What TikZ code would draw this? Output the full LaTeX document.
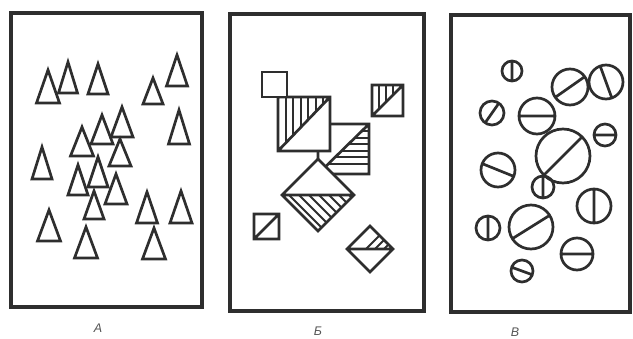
\documentclass[tikz,border=0pt]{standalone}
\usepackage{fontspec}
\setmainfont{Liberation Sans}
\usepackage{xcolor}
\definecolor{grpink}{HTML}{2E2E2E}
\definecolor{grptext}{HTML}{555555}
\usetikzlibrary{calc}
\tikzset{
  grpframe/.style={draw=grpink,line width=4pt},
  grpline/.style={draw=grpink,line width=2.7pt,line join=miter},
  grpbox/.style={grpline,fill=white},
  grphatch/.style={draw=grpink,line width=2pt},
  grplabel/.style={font=\itshape\fontsize{12.5}{14}\selectfont,text=grptext,inner sep=0pt},
}

\begin{document}
\begin{tikzpicture}[x=1pt,y=-1pt]
\useasboundingbox (0,0) rectangle (633,338);

% the three panels
\draw[grpframe] (11,13) rectangle (202,307);
\draw[grpframe] (230,14) rectangle (424,311);
\draw[grpframe] (451,15) rectangle (630,312);
\node[grplabel] (labA) at (98,328) {A};
\node[grplabel] (labB) at (318,331) {Б};
\node[grplabel] (labV) at (515,332) {В};

% A: triangles (centre x / top / base / width)
\foreach \cx/\ty/\by/\w in {48/70/103/23, 68/62/93/19, 98/64/94/20, 153/78/104/20,
  177/55/86/21, 122/107/137/22, 102/115/144/22, 82/127/156/23, 179/110/144/21,
  120/139/166/22, 42/147/179/20, 78/165/195/20, 98/157/187/20, 116/174/204/22,
  94/191/219/20, 147/192/223/21, 181/191/223/22, 49/210/241/23, 86/227/258/23,
  154/228/259/23}
  \draw[grpline] ({\cx-\w/2},\by) -- (\cx,\ty) -- ({\cx+\w/2},\by) -- cycle;

% B: squares and diamonds, half hatched
% square with horizontal hatching
\fill[white] (318,124) rectangle (369,174);
\begin{scope}
  \clip (318,174) -- (369,174) -- (369,124) -- cycle;
  \foreach \y in {131,137.5,...,169} \draw[grphatch] (318,\y) -- (369,\y);
\end{scope}
\draw[grpline] (318,124) rectangle (369,174) (318,174) -- (369,124);

% big square, vertical hatching
\fill[white] (278,97) rectangle (330,151);
\begin{scope}
  \clip (278,151) -- (278,97) -- (330,97) -- cycle;
  \foreach \x in {285.5,293,...,327} \draw[grphatch] (\x,97) -- (\x,151);
\end{scope}
\draw[grpline] (278,97) rectangle (330,151) (278,151) -- (330,97);

% small empty square
\draw[grpbox] (262,72) rectangle (287,97);

% small square top right
\begin{scope}
  \clip (372,116) -- (372,85) -- (403,85) -- cycle;
  \foreach \x in {379,386,...,398} \draw[grphatch] (\x,85) -- (\x,116);
\end{scope}
\draw[grpline] (372,85) rectangle (403,116) (372,116) -- (403,85);

% big diamond, hatching below
\fill[white] (318,159) -- (354,195) -- (318,231) -- (282,195) -- cycle;
\begin{scope}
  \clip (282,195) -- (354,195) -- (318,231) -- cycle;
  \foreach \x in {289,299,...,350} \draw[grphatch] (\x-10,185) -- (\x+50,245);
\end{scope}
\draw[grpline] (318,159) -- (354,195) -- (318,231) -- (282,195) -- cycle
  (282,195) -- (354,195);

% small diamond, hatching above
\begin{scope}
  \clip (347,249) -- (370,226) -- (393,249) -- cycle;
  \foreach \x in {356,365,...,392} \draw[grphatch] (\x+5,254) -- (\x+35,224);
\end{scope}
\draw[grpline] (370,226) -- (393,249) -- (370,272) -- (347,249) -- cycle
  (347,249) -- (393,249);

% small square bottom left
\draw[grpline] (254,214) rectangle (279,239) (254,239) -- (279,214);

% C: circles (centre x / centre y / radius / angle of the bar)
\foreach \cx/\cy/\r/\a in {512/71/10/90, 492/113/12/55, 537/116/18/0, 570/87/18/35,
  606/82/17/-70, 605/135/11/0, 563/156/27/45, 498/170/17/-22, 543/187/11/90,
  594/206/17/90, 488/228/12/90, 531/227/22/32, 577/254/16/0, 522/271/11/-20}
  \draw[grpline] (\cx,\cy) circle[radius=\r pt]
    ($(\cx,\cy)+(\a:\r pt)$) -- ($(\cx,\cy)+(\a+180:\r pt)$);
\end{tikzpicture}
\end{document}
